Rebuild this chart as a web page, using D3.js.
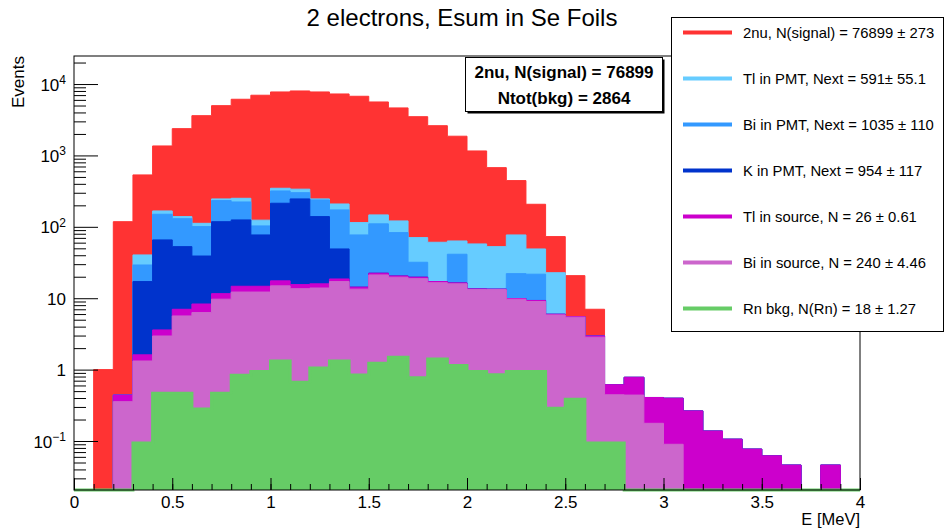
<!DOCTYPE html>
<html>
<head>
<meta charset="utf-8">
<script src="https://cdn.jsdelivr.net/npm/d3@7"></script>
<style>
  html, body { margin: 0; padding: 0; background: #fff; }
  svg { display: block; font-family: "Liberation Sans", Arial, Helvetica, sans-serif; }
</style>
</head>
<body>
<svg id="chart" width="944" height="528"></svg>
<script>
// Lower edge of each 0.1 MeV energy bin
const binLow = [0.0, 0.1, 0.2, 0.3, 0.4, 0.5, 0.6, 0.7, 0.8, 0.9,
                1.0, 1.1, 1.2, 1.3, 1.4, 1.5, 1.6, 1.7, 1.8, 1.9,
                2.0, 2.1, 2.2, 2.3, 2.4, 2.5, 2.6, 2.7, 2.8, 2.9,
                3.0, 3.1, 3.2, 3.3, 3.4, 3.5, 3.6, 3.7, 3.8, 3.9];
const binWidth = 0.1;

// Events per bin for each contribution (stacked bottom to top)
const rnBkg = [0, 0, 0, 0.094, 0.467, 0.467, 0.28, 0.467, 0.835, 0.94,
               1.32, 0.665, 1.05, 1.32, 0.84, 1.23, 1.49, 0.77, 1.41, 1.14,
               0.94, 0.85, 0.94, 0.94, 0.288, 0.385, 0.094, 0.094, 0, 0,
               0, 0, 0, 0, 0, 0, 0, 0, 0, 0];
const biSource = [0, 0, 0.356, 1.226, 2.49, 5.18, 6.02, 9.23, 11.37, 11.26,
                  13.58, 12.94, 12.85, 15.78, 12.56, 19.97, 18.21, 18.03, 15.09, 14.76,
                  12.26, 12.35, 8.76, 8.06, 5.55, 5.04, 2.75, 0.35, 0.44, 0.177,
                  0.09, 0, 0, 0, 0, 0, 0, 0, 0, 0];
const tlSource = [0, 0, 0.084, 0.29, 0.64, 1.35, 2.0, 1.9, 2.5, 2.5,
                  2.6, 1.9, 2.0, 1.5, 0.9, 1.2, 0.8, 0.9, 0.6, 0.5,
                  0.3, 0.2, 0.2, 0.3, 0.13, 0.1, 0.12, 0.17, 0.34, 0.23,
                  0.307, 0.264, 0.138, 0.106, 0.077, 0.062, 0.046, 0, 0.046, 0];
const kPmt = [0, 0, 0, 15.5, 62.0, 45.8, 30.7, 106.4, 110.3, 62.3,
              196.5, 230.5, 123.1, 30.4, 0, 0, 0, 0, 0, 0,
              0, 0, 0, 0, 0, 0, 0, 0, 0, 0,
              0, 0, 0, 0, 0, 0, 0, 0, 0, 0];
const biPmt = [0, 0, 0, 12.1, 84.4, 77.2, 61.7, 115, 98, 26,
               104, 55, 99, 123.6, 62.7, 87.6, 62.5, 12.2, 0, 24.9,
               0, 0, 12.2, 12.4, 0, 0, 0, 0, 0, 0,
               0, 0, 0, 0, 0, 0, 0, 0, 0, 0];
const tlPmt = [0, 0, 0, 11.2, 17, 9, 11.3, 13, 28, 21,
               29, 36, 8, 36.4, 37.6, 37, 38, 38.7, 43.7, 22.1,
               44.1, 39.4, 54.9, 27.3, 16.8, 0, 0, 0, 0, 0,
               0, 0, 0, 0, 0, 0, 0, 0, 0, 0];
const twoNu = [0, 1.0, 117.6, 493, 1191, 2234, 3494, 4734, 5869, 6846,
               7403, 7663, 7504, 7051, 6625, 5463, 4509, 3419, 2549, 1795,
               1098, 622, 367, 158, 50.2, 15.2, 4.04, 0, 0, 0,
               0, 0, 0, 0, 0, 0, 0, 0, 0, 0];

const seriesKeys = ["rnBkg", "biSource", "tlSource", "kPmt", "biPmt", "tlPmt", "twoNu"];
const seriesColors = {
  twoNu: "#ff3333", tlPmt: "#66ccff", biPmt: "#3399ff", kPmt: "#0033cc",
  tlSource: "#cc00cc", biSource: "#cc66cc", rnBkg: "#66cc66"
};

// Legend entries, top to bottom
const legendKeys = ["twoNu", "tlPmt", "biPmt", "kPmt", "tlSource", "biSource", "rnBkg"];
const legendLabels = [
  "2nu, N(signal) = 76899 \u00b1 273",
  "Tl in PMT, Next = 591\u00b1 55.1",
  "Bi in PMT, Next = 1035 \u00b1 110",
  "K in PMT, Next = 954 \u00b1 117",
  "Tl in source, N = 26 \u00b1 0.61",
  "Bi in source, N = 240 \u00b1 4.46",
  "Rn bkg, N(Rn) = 18 \u00b1 1.27"
];
const statsLines = ["2nu, N(signal) = 76899", "Ntot(bkg) = 2864"];

const xMajorTicks = [0, 0.5, 1, 1.5, 2, 2.5, 3, 3.5, 4];
const xTickLabels = ["0", "0.5", "1", "1.5", "2", "2.5", "3", "3.5", "4"];
const yMajorTicks = [0.1, 1, 10, 100, 1000, 10000];
const yTickBase = ["10", "1", "10", "10", "10", "10"];
const yTickExp = ["\u22121", "", "", "2", "3", "4"];

// ---------- layout ----------
const svg = d3.select("#chart");
const frame = { left: 74, right: 860, top: 56, bottom: 490 };
const yLow = 0.0206, yHigh = 24700;

const x = d3.scaleLinear().domain([0, 4]).range([frame.left, frame.right]);
const y = d3.scaleLog().domain([yLow, yHigh]).range([frame.bottom, frame.top]);

// a little room below the axis so zero-level outlines stay visible
svg.append("defs").append("clipPath").attr("id", "plotClip")
  .append("rect")
  .attr("x", frame.left).attr("y", frame.top)
  .attr("width", frame.right - frame.left).attr("height", frame.bottom - frame.top + 2.5);

// ---------- stacked histogram ----------
const columns = { rnBkg, biSource, tlSource, kPmt, biPmt, tlPmt, twoNu };
const rows = binLow.map((lo, i) => {
  const r = { lo };
  seriesKeys.forEach(k => { r[k] = columns[k][i]; });
  return r;
});
const stacked = d3.stack().keys(seriesKeys)(rows);

const clampV = v => Math.max(v, yLow);
function stepPoints(layer) {
  const pts = [];
  layer.forEach(d => {
    const top = clampV(d[1]);
    pts.push({ e: d.data.lo, v: top });
    pts.push({ e: d.data.lo + binWidth, v: top });
  });
  return pts;
}

const area = d3.area().x(p => x(p.e)).y0(frame.bottom).y1(p => y(p.v));
const line = d3.line().x(p => x(p.e)).y(p => y(p.v));

const histG = svg.append("g").attr("clip-path", "url(#plotClip)");
// total drawn first, first contribution drawn last (in front)
stacked.slice().reverse().forEach(layer => {
  const pts = stepPoints(layer);
  const col = seriesColors[layer.key];
  histG.append("path").attr("d", area(pts)).attr("fill", col).attr("stroke", "none");
  histG.append("path").attr("d", line(pts)).attr("fill", "none")
    .attr("stroke", col).attr("stroke-width", layer.key === "rnBkg" ? 3 : 1);
});

// ---------- axes ----------
const axisFont = 17;

const xMinor = svg.append("g").attr("transform", `translate(0,${frame.bottom})`)
  .call(d3.axisBottom(x).tickValues(binLow.concat([4])).tickSize(-6).tickFormat(""));
xMinor.select(".domain").remove();
const xMajor = svg.append("g").attr("transform", `translate(0,${frame.bottom})`)
  .call(d3.axisBottom(x).tickValues(xMajorTicks).tickSize(-12).tickPadding(6)
    .tickFormat((d, i) => xTickLabels[i]));
xMajor.select(".domain").remove();
xMajor.selectAll("text").attr("font-size", axisFont).attr("fill", "#000")
  .attr("font-family", "'Liberation Sans', Arial, sans-serif");

const yMinorVals = [];
[-2, -1, 0, 1, 2, 3, 4].forEach(p => {
  for (let k = 2; k <= 9; k++) {
    const v = k * Math.pow(10, p);
    if (v > yLow && v < yHigh) yMinorVals.push(v);
  }
});
const yMinor = svg.append("g").attr("transform", `translate(${frame.left},0)`)
  .call(d3.axisLeft(y).tickValues(yMinorVals).tickSize(-12).tickFormat(""));
yMinor.select(".domain").remove();
const yMajor = svg.append("g").attr("transform", `translate(${frame.left},0)`)
  .call(d3.axisLeft(y).tickValues(yMajorTicks).tickSize(-24).tickPadding(8).tickFormat(""));
yMajor.select(".domain").remove();
yMajor.selectAll(".tick").each(function (d, i) {
  const t = d3.select(this).select("text")
    .attr("font-size", axisFont).attr("fill", "#000")
    .attr("font-family", "'Liberation Sans', Arial, sans-serif")
    .attr("dy", "0.36em");
  t.text(null);
  t.append("tspan").text(yTickBase[i]);
  if (yTickExp[i]) {
    t.append("tspan").attr("font-size", 12).attr("dy", "-0.55em").text(yTickExp[i]);
  }
});
svg.selectAll(".tick line").attr("stroke", "#000");

// frame
svg.append("rect")
  .attr("x", frame.left).attr("y", frame.top)
  .attr("width", frame.right - frame.left).attr("height", frame.bottom - frame.top)
  .attr("fill", "none").attr("stroke", "#000").attr("stroke-width", 1);

// axis titles
svg.append("text").attr("x", frame.right).attr("y", 524.5)
  .attr("text-anchor", "end").attr("font-size", 16.5).text("E [MeV]");
svg.append("text").attr("transform", `translate(24,${frame.top}) rotate(-90)`)
  .attr("text-anchor", "end").attr("font-size", axisFont).text("Events");

// title
svg.append("text").attr("x", 462).attr("y", 26).attr("text-anchor", "middle")
  .attr("font-size", 24).text("2 electrons, Esum in Se Foils");

// ---------- summary box ----------
const sb = { x: 465.5, y: 57.5, w: 197, h: 54 };
svg.append("rect").attr("x", sb.x + 2).attr("y", sb.y + 2).attr("width", sb.w).attr("height", sb.h)
  .attr("fill", "#000");
svg.append("rect").attr("x", sb.x).attr("y", sb.y).attr("width", sb.w).attr("height", sb.h)
  .attr("fill", "#fff").attr("stroke", "#000").attr("stroke-width", 1);
statsLines.forEach((s, i) => {
  svg.append("text").attr("x", sb.x + sb.w / 2).attr("y", sb.y + 14.5 + i * 26.6)
    .attr("text-anchor", "middle").attr("dominant-baseline", "central")
    .attr("font-size", 17).attr("font-weight", "bold").text(s);
});

// ---------- legend ----------
const lg = { x: 671.5, y: 17.5, w: 272, h: 314 };
svg.append("rect").attr("x", lg.x).attr("y", lg.y).attr("width", lg.w).attr("height", lg.h)
  .attr("fill", "#fff").attr("stroke", "#000").attr("stroke-width", 1);
legendKeys.forEach((k, i) => {
  const cy = 32.5 + i * 46;
  svg.append("line").attr("x1", 683).attr("x2", 732).attr("y1", cy).attr("y2", cy)
    .attr("stroke", seriesColors[k]).attr("stroke-width", 4);
  svg.append("text").attr("x", 743).attr("y", cy).attr("dominant-baseline", "central")
    .attr("font-size", 14.8).text(legendLabels[i]);
});
</script>
</body>
</html>
